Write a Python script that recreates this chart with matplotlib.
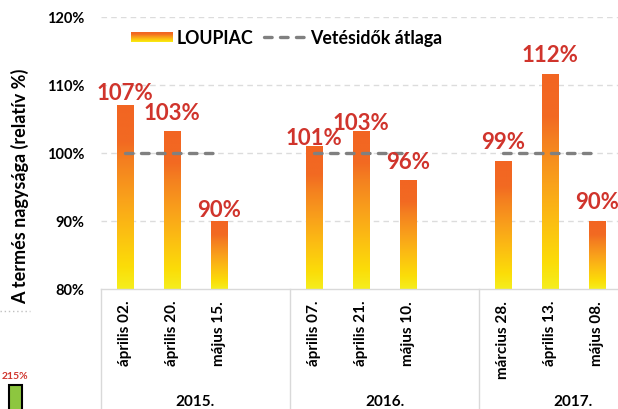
import numpy as np
import matplotlib
matplotlib.use("Agg")
import matplotlib.pyplot as plt
from matplotlib.colors import LinearSegmentedColormap
from matplotlib.lines import Line2D
from matplotlib.transforms import blended_transform_factory

# ---- data ----
years = ["2015.", "2016.", "2017."]
dates = ["április 02.", "április 20.", "május 15.",
         "április 07.", "április 21.", "május 10.",
         "március 28.", "április 13.", "május 08."]
values = [107.0, 103.1, 90.0, 101.0, 103.1, 96.0, 98.7, 111.6, 90.0]
value_labels = ["107%", "103%", "90%", "101%", "103%", "96%", "99%", "112%", "90%"]
average = [100, 100, 100]
yticks = [80, 90, 100, 110, 120]
ytick_labels = ["80%", "90%", "100%", "110%", "120%"]
stray_value = [215]
stray_label = ["215%"]

# label vertical offsets (points) above bar tops
label_offsets = [4.3, 9.4, 3.6, 1.4, 2.2, 8.3, 9.4, 9.4, 9.4]

plt.rcParams['font.family'] = ['Lato', 'DejaVu Sans']
plt.rcParams['font.weight'] = 'bold'
plt.rcParams['lines.scale_dashes'] = False

W, H = 618, 410
fig = plt.figure(figsize=(W / 100, H / 100), dpi=100)
fig.patch.set_facecolor('white')

def px_rect(l, t, r, b):
    return [l / W, 1 - b / H, (r - l) / W, (b - t) / H]

ax = fig.add_axes(px_rect(101, 17.7, 668, 289.7))
ax.set_facecolor('white')

cmap = LinearSegmentedColormap.from_list("grad", [
    (0.0, "#F5EE1E"), (0.12, "#FBDD08"), (0.30, "#FCC012"),
    (0.50, "#F9A01B"), (0.70, "#F47F20"), (0.80, "#F26A22"), (1.0, "#F26522")])

nslots = 12
xpos = []
for g in range(3):
    for i in range(3):
        xpos.append(g * 4 + i + 0.5)
xpos = np.array(xpos)
vals = np.array(values)

bars = ax.bar(xpos, vals - 80, bottom=80, width=0.34, color='none',
              edgecolor='none', zorder=2)
grad = np.linspace(0, 1, 256).reshape(-1, 1)
for b in bars:
    x0 = b.get_x()
    x1 = x0 + b.get_width()
    y0 = b.get_y()
    y1 = y0 + b.get_height()
    ax.imshow(grad, extent=[x0, x1, y0, y1], origin='lower', aspect='auto',
              cmap=cmap, zorder=2, interpolation='bilinear')

for x, v, lab, off in zip(xpos, vals, value_labels, label_offsets):
    ax.annotate(lab, xy=(x, v), xytext=(0, off), textcoords='offset points',
                ha='center', va='baseline', color='#D0342C', fontsize=16,
                fontweight='bold', zorder=4, annotation_clip=False)

# average lines
for g, avg in enumerate(average):
    ax.plot([g * 4 + 0.5, g * 4 + 2.5], [avg, avg], color='#808080', lw=2.4,
            dashes=(5.5, 6.0), dash_capstyle='round', zorder=3)

ax.set_xlim(0, nslots)
ax.set_ylim(80, 120)
ax.set_yticks(yticks)
ax.set_yticklabels(ytick_labels, fontsize=10.5, fontweight='bold')
ax.tick_params(axis='y', length=0, pad=12)
ax.set_xticks(xpos)
ax.set_xticklabels(dates, rotation=90, fontsize=11, fontweight='bold')
ax.tick_params(axis='x', length=0, pad=8)

for s in ['top', 'right', 'left']:
    ax.spines[s].set_visible(False)
ax.spines['bottom'].set_color('#d9d9d9')
ax.spines['bottom'].set_linewidth(1)

for yv in yticks[1:]:
    ax.axhline(yv, color='#dcdcdc', lw=1, dashes=(4, 3), zorder=1)

# group separators
tr = blended_transform_factory(ax.transData, ax.transAxes)
for xs in [0, 4, 8, 12]:
    ax.add_line(Line2D([xs, xs], [0, -0.45], transform=tr, color='#d9d9d9',
                       lw=1, clip_on=False))
for g, yr in enumerate(years):
    ax.text(g * 4 + 2, 1 / H, yr, transform=blended_transform_factory(ax.transData, fig.transFigure),
            ha='center', va='bottom', fontsize=11, fontweight='bold', clip_on=False)

# y label
fig.text(20 / W, 1 - 186.5 / H, "A termés nagysága (relatív %)", rotation=90,
         ha='center', va='center', fontsize=13, fontweight='bold')

# legend (manual)
lax = fig.add_axes(px_rect(131, 33, 173, 43))
lax.imshow(grad, origin='lower', aspect='auto', cmap=cmap,
           extent=[0, 1, 0, 1], interpolation='bilinear')
lax.set_axis_off()
fig.text(177 / W, 1 - 38.5 / H, "LOUPIAC", ha='left', va='center',
         fontsize=12.8, fontweight='bold')
fig.add_artist(Line2D([264 / W, 305 / W], [1 - 38 / H, 1 - 38 / H],
                      color='#808080', lw=2.4, dashes=(5.5, 6.0),
                      dash_capstyle='round'))
fig.text(310 / W, 1 - 38.5 / H, "Vetésidők átlaga", ha='left', va='center',
         fontsize=12.8, fontweight='bold')

# stray fragments at left edge
fig.add_artist(Line2D([0, 30 / W], [1 - 311.7 / H, 1 - 311.7 / H],
                      color='#c0c0c0', lw=1, ls=(0, (1, 2))))
sax = fig.add_axes(px_rect(0, 370, 30, 410))
sax.set_axis_off()
sax.bar([15], stray_value, width=13, color='#8DC63F', edgecolor='black',
        linewidth=1.5)
sax.set_xlim(0, 30)
sax.set_ylim(150, 258.3)
for v, lab in zip(stray_value, stray_label):
    sax.annotate(lab, xy=(15, v), xytext=(0, 5), textcoords='offset points',
                 ha='center', va='baseline', color='#D0342C', fontsize=7.5,
                 fontweight='bold', annotation_clip=False)

fig.savefig("out.png", dpi=100, facecolor='white')
